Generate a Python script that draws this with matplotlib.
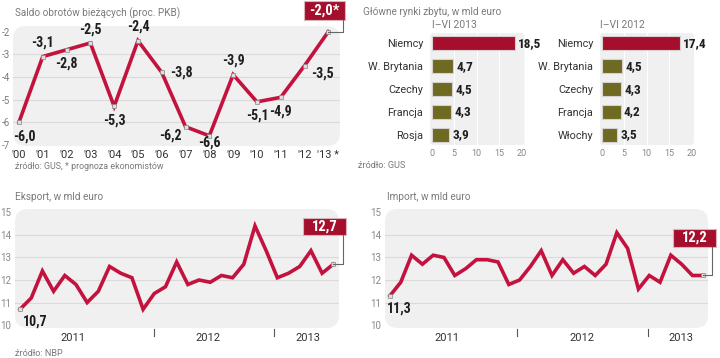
import matplotlib
matplotlib.use("Agg")
import matplotlib.pyplot as plt
from matplotlib import font_manager
from matplotlib.patches import FancyBboxPatch
from matplotlib.lines import Line2D

names = sorted({f.name for f in font_manager.fontManager.ttflist})

# ---------------- data ----------------
saldo_years = ["'00", "'01", "'02", "'03", "'04", "'05", "'06", "'07", "'08", "'09", "'10", "'11", "'12", "'13 *"]
saldo_values = [-6.0, -3.1, -2.8, -2.5, -5.3, -2.4, -3.8, -6.2, -6.6, -3.9, -5.1, -4.9, -3.5, -2.0]

markets_2013 = ["Niemcy", "W. Brytania", "Czechy", "Francja", "Rosja"]
values_2013 = [18.5, 4.7, 4.5, 4.3, 3.9]
markets_2012 = ["Niemcy", "W. Brytania", "Czechy", "Francja", "Włochy"]
values_2012 = [17.4, 4.5, 4.3, 4.2, 3.5]

export_values = [10.7, 11.2, 12.4, 11.5, 12.2, 11.8, 11.0, 11.5, 12.6, 12.3, 12.1, 10.7,
                 11.4, 11.7, 12.8, 11.8, 12.0, 11.9, 12.2, 12.1, 12.7, 14.4, 13.3, 12.1,
                 12.3, 12.6, 13.3, 12.3, 12.7]
import_values = [11.3, 11.9, 13.1, 12.7, 13.1, 13.0, 12.2, 12.5, 12.9, 12.9, 12.8, 11.8,
                 12.0, 12.6, 13.3, 12.2, 12.9, 12.3, 12.6, 12.2, 12.7, 14.1, 13.4, 11.6,
                 12.2, 11.9, 13.1, 12.7, 12.2, 12.2]
year_labels = ["2011", "2012", "2013"]

# ---------------- style ----------------
W, H = 720, 358
RED = "#c4123f"
BOXRED = "#a50f2d"
OLIVE = "#6e6a22"
BG = "#f0f0f0"
GRID = "#dadada"
GRAYTXT = "#7a7a7a"
DARK = "#1e1e1e"

def pick(cands):
    for c in cands:
        if c in names:
            return c
    return "DejaVu Sans"

COND = pick(["Roboto Condensed", "Liberation Sans Narrow", "Open Sans Condensed", "Roboto"])
LIGHT = pick(["Roboto", "Lato", "Open Sans"])
plt.rcParams["font.family"] = [LIGHT, "DejaVu Sans"]

fig = plt.figure(figsize=(W / 100, H / 100), dpi=100)
fig.patch.set_facecolor("white")


def ax_px(x0, y0, x1, y1):
    return fig.add_axes([x0 / W, 1 - y1 / H, (x1 - x0) / W, (y1 - y0) / H])


def rounded_bg(ax):
    ax.patch.set_visible(False)
    p = FancyBboxPatch((0, 0), 1, 1, boxstyle="round,pad=0,rounding_size=0.04",
                       transform=ax.transAxes, facecolor=BG, edgecolor="none", zorder=0,
                       mutation_aspect=ax.bbox.width / ax.bbox.height)
    ax.add_patch(p)


def clean(ax):
    for s in ax.spines.values():
        s.set_visible(False)
    ax.tick_params(length=0, labelsize=7, labelcolor=GRAYTXT)


def px(x, y):
    return (x / W, 1 - y / H)


def data_to_px(ax, x, y):
    dx, dy = ax.transData.transform((x, y))
    return dx / fig.dpi * 100, H - dy / fig.dpi * 100


def callout(ax, x, y, text, box_x0, box_y0, box_x1, box_y1, vline_x):
    fig.patches.append(FancyBboxPatch((box_x0 / W, 1 - box_y1 / H), (box_x1 - box_x0) / W,
                                      (box_y1 - box_y0) / H, boxstyle="square,pad=0",
                                      transform=fig.transFigure, facecolor=BOXRED,
                                      edgecolor="#d9b3bb", linewidth=0.8))
    fig.text((box_x0 + box_x1) / 2 / W, 1 - (box_y0 + box_y1) / 2 / H, text, color="white",
             fontsize=10.5, fontweight="bold", family=[COND, "DejaVu Sans"],
             ha="center", va="center")
    pxx, pyy = data_to_px(ax, x, y)
    xs = [vline_x, vline_x, pxx]
    ys = [box_y1, pyy, pyy]
    fig.lines.append(Line2D([a / W for a in xs], [1 - b / H for b in ys],
                            transform=fig.transFigure, color="#666666", linewidth=0.8))


# ---------------- Saldo ----------------
ax1 = ax_px(13, 26, 340, 146)
rounded_bg(ax1)
clean(ax1)
xs = list(range(len(saldo_values)))
ax1.set_xlim(-0.25, 13.49)
ax1.set_ylim(-7.05, -1.75)
for v in [-3, -4, -5, -6]:
    ax1.axhline(v, color=GRID, lw=0.8, zorder=1)
ax1.plot(xs, saldo_values, color=RED, lw=2.6, zorder=3, solid_joinstyle="miter")
ax1.plot(xs, saldo_values, ls="none", marker="s", ms=2.2, mfc="#dddddd", mec="#888888",
         mew=0.5, zorder=4)
ax1.set_yticks([-2, -3, -4, -5, -6, -7])
ax1.set_yticklabels(["-2", "-3", "-4", "-5", "-6", "-7"])
ax1.tick_params(axis="y", pad=2)
ax1.set_xticks(xs)
ax1.set_xticklabels(saldo_years, fontsize=8, color="#333333")
ax1.tick_params(axis="x", pad=3)
# label offsets (points)
offs = [(4, -10), (0, 10), (0, -10), (0, 10), (0, -10), (0, 10), (14, 0), (-11, -6),
        (0, -4.8), (0, 10), (0, -10), (0, -10), (13, -6), None]
for x, v, o in zip(xs, saldo_values, offs):
    if o is None:
        continue
    ax1.annotate(f"{v:.1f}".replace(".", ","), (x, v), xytext=o, textcoords="offset points",
                 ha="center", va="center", fontsize=10, fontweight="bold", color=DARK,
                 family=[COND, "DejaVu Sans"], zorder=5)
fig.text(*px(15, 13), "Saldo obrotów bieżących (proc. PKB)", fontsize=7.2, color=GRAYTXT,
         va="center")
fig.text(*px(15, 167), "źródło: GUS, * prognoza ekonomistów", fontsize=6.4, color=GRAYTXT,
         va="center")
callout(ax1, 13, saldo_values[-1], "-2,0*", 304, 1, 345, 20, 343)

# ---------------- bars ----------------
fig.text(*px(363, 12), "Główne rynki zbytu, w mld euro", fontsize=7.2, color=GRAYTXT, va="center")
fig.text(*px(358, 166), "źródło: GUS", fontsize=6.6, color=GRAYTXT, va="center")


def bar_panel(x0, x1, cats, vals, title, title_x):
    ax = ax_px(x0, 33, x1, 145)
    rounded_bg(ax)
    clean(ax)
    ypos = list(range(len(cats)))
    ax.set_ylim(4.44, -0.45)
    ax.set_xlim(-0.4, 20.6)
    for g in [5, 10, 15]:
        ax.axvline(g, color="white", lw=0.8, zorder=1)
    colors = [BOXRED] + [OLIVE] * (len(cats) - 1)
    ax.barh(ypos, vals, height=0.62, color=colors, edgecolor="#d6d0d0", linewidth=0.8, zorder=2)
    for y, v in zip(ypos, vals):
        ax.text(v + 0.7, y, f"{v:.1f}".replace(".", ","), va="center", ha="left",
                fontsize=9.5, fontweight="bold", color=DARK, family=[COND, "DejaVu Sans"])
    ax.set_yticks(ypos)
    ax.set_yticklabels(cats, fontsize=7.8, color="#333333")
    ax.tick_params(axis="y", pad=5)
    ax.set_xticks([0, 5, 10, 15, 20])
    ax.tick_params(axis="x", labelsize=6.5, pad=3, labelcolor="#888888")
    fig.text(*px(title_x, 25), title, fontsize=7.5, color=GRAYTXT, va="center")
    return ax


bar_panel(430, 524.5, markets_2013, values_2013, "I–VI 2013", 432)
bar_panel(600, 694, markets_2012, values_2012, "I–VI 2012", 600)


# ---------------- Export / Import ----------------
def line_panel(x0, x1, vals, xlim, title, title_x, first_lab, last_box, seps, year_pos):
    ax = ax_px(x0, 209, x1, 328)
    rounded_bg(ax)
    clean(ax)
    xs = list(range(len(vals)))
    ax.set_xlim(*xlim)
    ax.set_ylim(9.87, 15.15)
    for v in [11, 12, 13, 14]:
        ax.axhline(v, color=GRID, lw=0.8, zorder=1)
    ax.plot(xs, vals, color=RED, lw=2.6, zorder=3, solid_joinstyle="miter")
    ax.plot([xs[0], xs[-1]], [vals[0], vals[-1]], ls="none", marker="s", ms=2.2,
            mfc="#dddddd", mec="#888888", mew=0.5, zorder=4)
    ax.set_yticks([10, 11, 12, 13, 14, 15])
    ax.tick_params(axis="y", pad=3, labelsize=7, labelcolor="#888888")
    ax.set_xticks([])
    ax.annotate(f"{vals[0]:.1f}".replace(".", ","), (xs[0], vals[0]), xytext=first_lab,
                textcoords="offset points", ha="center", va="center", fontsize=10,
                fontweight="bold", color=DARK, family=[COND, "DejaVu Sans"])
    for s in seps:
        ax.plot([s, s], [-0.01, -0.07], transform=ax.get_xaxis_transform(), color="#555555",
                lw=0.8, clip_on=False)
    for lab, xp in zip(year_labels, year_pos):
        fig.text(*px(xp, 338), lab, fontsize=8, color="#333333", ha="center", va="center")
    fig.text(*px(title_x, 197), title, fontsize=7.2, color=GRAYTXT, va="center")
    callout(ax, xs[-1], vals[-1], f"{vals[-1]:.1f}".replace(".", ","), *last_box)
    return ax


line_panel(15, 339, export_values, (-0.45, 28.51), "Eksport, w mld euro", 15, (11, -9),
           (303, 218, 346, 235, 342.7), [12.0, 22.73], [73, 208, 308])
line_panel(385, 708, import_values, (-0.46, 29.44), "Import, w mld euro", 387, (7, -9),
           (673, 229, 716, 247, 712.3), [11.79, 23.86], [447, 582, 681])
fig.text(*px(15, 353), "źródło: NBP", fontsize=6.6, color=GRAYTXT, va="center")

fig.savefig("out.png", dpi=100)
